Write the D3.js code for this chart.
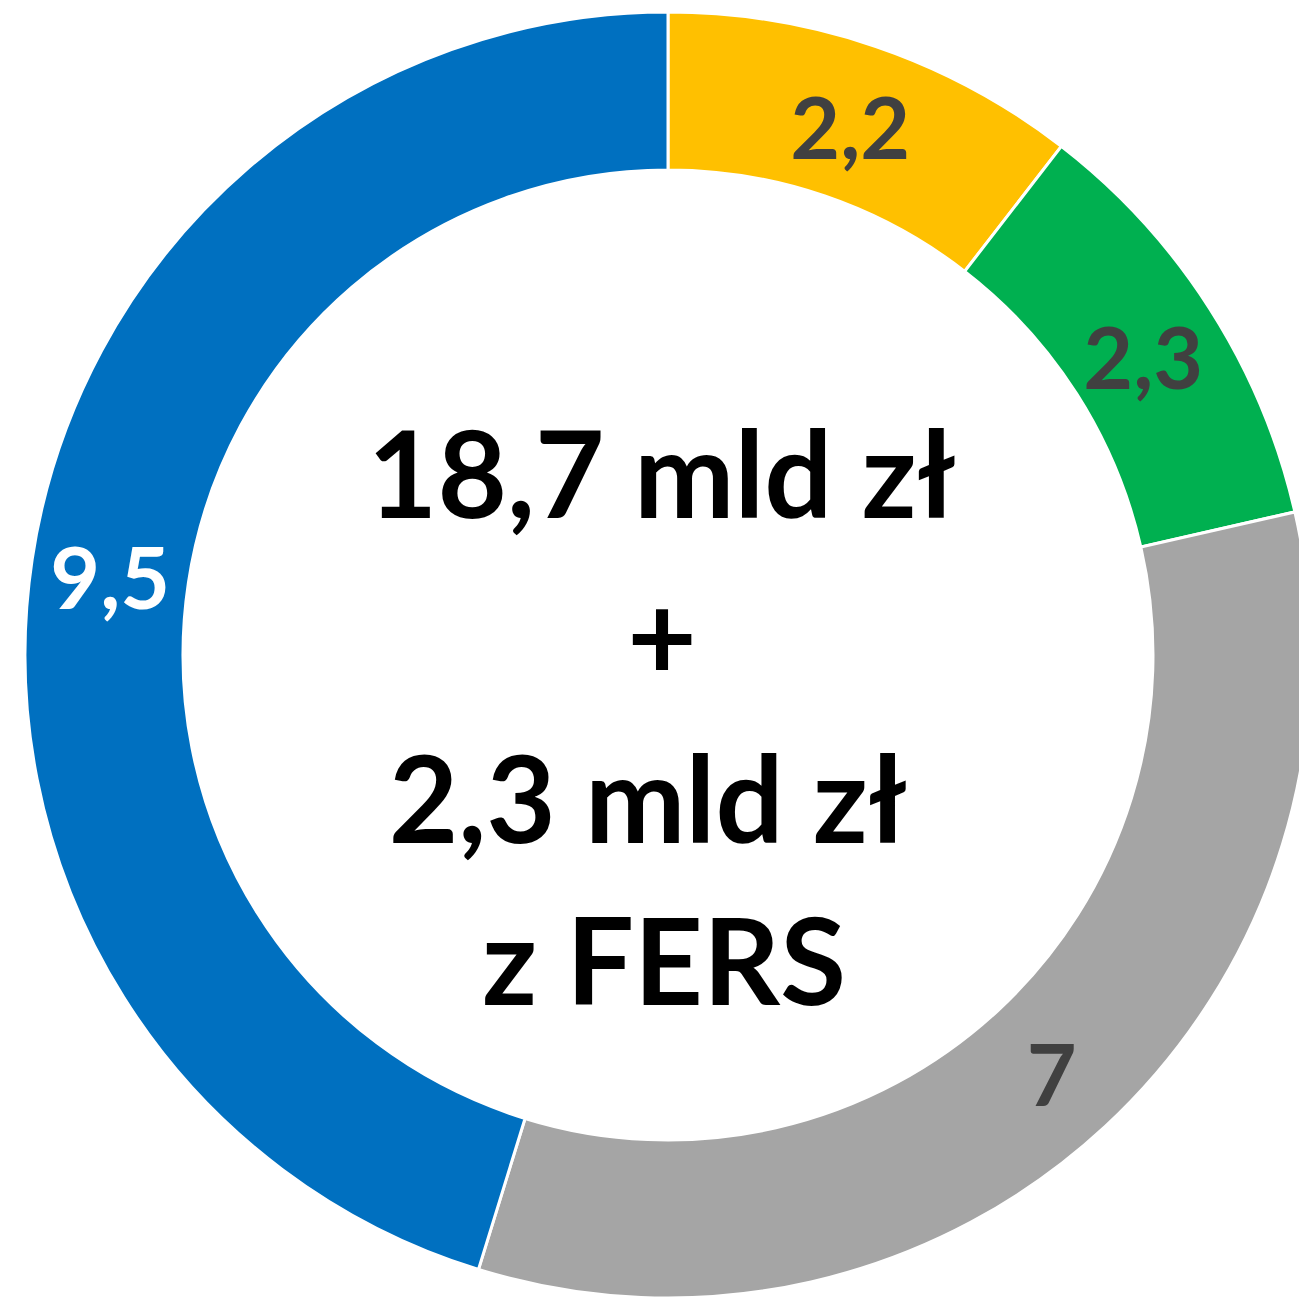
<!DOCTYPE html>
<html><head><meta charset="utf-8">
<script src="https://cdn.jsdelivr.net/npm/d3@7"></script>
<style>html,body{margin:0;padding:0;background:#fff;overflow:hidden}</style>
</head><body>
<svg id="chart" width="1299" height="1301"></svg>
<script>
const categories = ["A", "B", "C", "D"];
const values = [2.2, 2.3, 7, 9.5];
const valueLabels = ["2,2", "2,3", "7", "9,5"];
const colors = ["#FFC000", "#00B050", "#A5A5A5", "#0070C0"];
const labelColors = ["#404040", "#404040", "#404040", "#FFFFFF"];
const centerLines = ["18,7 mld zł", "+", "2,3 mld zł", "z FERS"];

const svg = d3.select("#chart");
const cx = 668, cy = 655, rOuter = 643, rInner = 485;
const g = svg.append("g").attr("transform", `translate(${cx},${cy})`);
const data = categories.map((c, i) => ({cat: c, value: values[i], label: valueLabels[i], color: colors[i], lc: labelColors[i]}));
const pie = d3.pie().value(d => d.value).sort(null);
const arc = d3.arc().innerRadius(rInner).outerRadius(rOuter);
const arcs = pie(data);

g.selectAll("path.slice").data(arcs).join("path")
  .attr("class", "slice")
  .attr("d", arc)
  .attr("fill", d => d.data.color)
  .attr("stroke", "#fff")
  .attr("stroke-width", 3);

g.selectAll("text.lbl").data(arcs).join("text")
  .attr("class", "lbl")
  .attr("transform", d => { const c = arc.centroid(d); return `translate(${c[0]},${c[1]})`; })
  .attr("text-anchor", "middle")
  .attr("dominant-baseline", "central")
  .attr("dy", "0.05em")
  .attr("font-family", "Lato, 'Open Sans', sans-serif")
  .attr("font-weight", "bold")
  .attr("font-size", 86)
  .attr("fill", d => d.data.lc)
  .text(d => d.data.label);

const baselines = [518, 680, 843, 1005];
const xOffsets = [662, 662, 648, 664];
svg.selectAll("text.center").data(centerLines).join("text")
  .attr("class", "center")
  .attr("x", (d, i) => xOffsets[i])
  .attr("y", (d, i) => baselines[i])
  .attr("text-anchor", "middle")
  .attr("font-family", "Lato, 'Open Sans', sans-serif")
  .attr("font-weight", "bold")
  .attr("font-size", 120)
  .attr("fill", "#000")
  .text(d => d);
</script>
</body></html>
